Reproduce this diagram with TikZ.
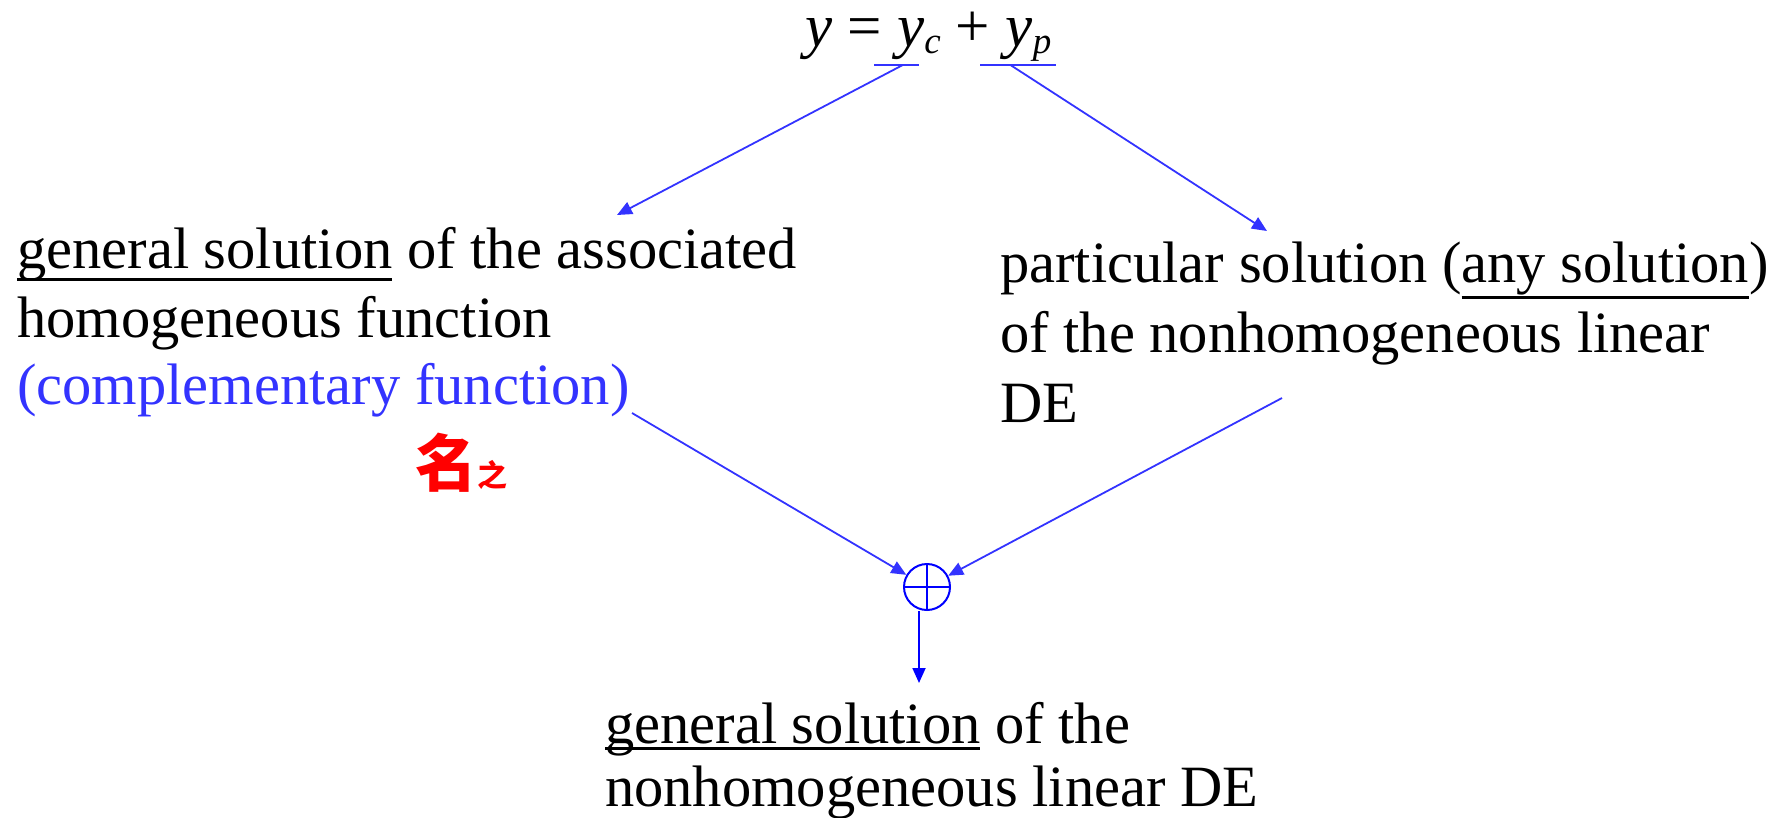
\documentclass[tikz,border=0pt]{standalone}
\usepackage{fontspec}
\setmainfont{Liberation Serif}
\newfontfamily\cjk{Noto Sans CJK SC}
\usepackage{tikz}
\usetikzlibrary{
  arrows.meta,
  shapes.geometric,
  calc
}
\definecolor{lineblue}{RGB}{51,51,255}
\definecolor{pureblue}{RGB}{0,0,255}
\definecolor{notered}{RGB}{255,0,0}

% underline a word at a given depth below the baseline
\newcommand{\ulword}[2]{\setbox0\hbox{#2}\rlap{\rule[-#1]{\wd0}{3pt}}\box0\relax}
% small lowered index for the equation
\newcommand{\idx}[1]{\raisebox{-7pt}{\fontsize{37}{37}\selectfont\textit{#1}}}

\begin{document}
\begin{tikzpicture}[
  x=1pt, y=-1pt,
  >={Triangle[length=15pt,width=13pt]},
  % --- node styles ---
  txt/.style={anchor=base west, inner sep=0pt, font=\fontsize{58.5}{69}\selectfont},
  eqn/.style={anchor=base west, inner sep=0pt, font=\fontsize{61}{70}\selectfont},
  note/.style={anchor=base west, inner sep=0pt, text=notered,
    font=\cjk\bfseries\fontsize{62}{62}\selectfont},
  sumnode/.style={circle, draw=pureblue, line width=2pt,
    minimum size=46pt, inner sep=0pt},
  arr/.style={->, line width=1.8pt, lineblue},
  uline/.style={line width=2.2pt, lineblue},
]
\useasboundingbox (0,0) rectangle (1785,817);

% Top: the decomposition
\node[eqn] (eq) at (805,46)
  {\textit{y} = \textit{y}\idx{c} + \textit{y}\idx{p}};
\coordinate (ycl) at (874,65);
\coordinate (ycr) at (919,65);
\coordinate (ypl) at (980,65);
\coordinate (ypr) at (1056,65);

% Left: complementary part
\node[txt] (left1) at (17,268) {\ulword{12.5pt}{general solution} of the associated};
\node[txt] (left2) at (17,337) {homogeneous function};
\node[txt, text=lineblue] (left3) at (17,404) {(complementary function)};
\node[note] (remark) at (415,486) {名{\fontsize{30}{30}\selectfont 之}};

% Right: particular part
\node[txt] (right1) at (1000,282) {particular solution (\ulword{16.5pt}{any solution})};
\node[txt] (right2) at (1000,352) {of the nonhomogeneous linear};
\node[txt] (right3) at (1000,422) {DE};

% Sum and result
\node[sumnode] (sum) at (927,587) {};
\draw[pureblue, line width=2pt] (sum.north) -- (sum.south) (sum.west) -- (sum.east);
\node[txt] (res1) at (605,743) {\ulword{6.5pt}{general solution} of the};
\node[txt] (res2) at (605,806) {nonhomogeneous linear DE};

% ─── Connectors ─────────────────────────────────────────────
\coordinate (tipL) at (617,215);
\coordinate (tipR) at (1267,231);
\coordinate (fromL) at (632,413);
\coordinate (fromR) at (1282,398);
\coordinate (tipB) at (919,683);

\draw[uline] (ycl) -- (ycr);
\draw[uline] (ypl) -- (ypr);
\draw[arr] ($(ycl)!0.64!(ycr)$) -- (tipL);
\draw[arr] ($(ypl)!0.4!(ypr)$) -- (tipR);
\draw[arr] (fromL) -- (sum);
\draw[arr] (fromR) -- (sum);
\draw[arr, pureblue] (sum.south -| tipB) -- (tipB);

\end{tikzpicture}
\end{document}
